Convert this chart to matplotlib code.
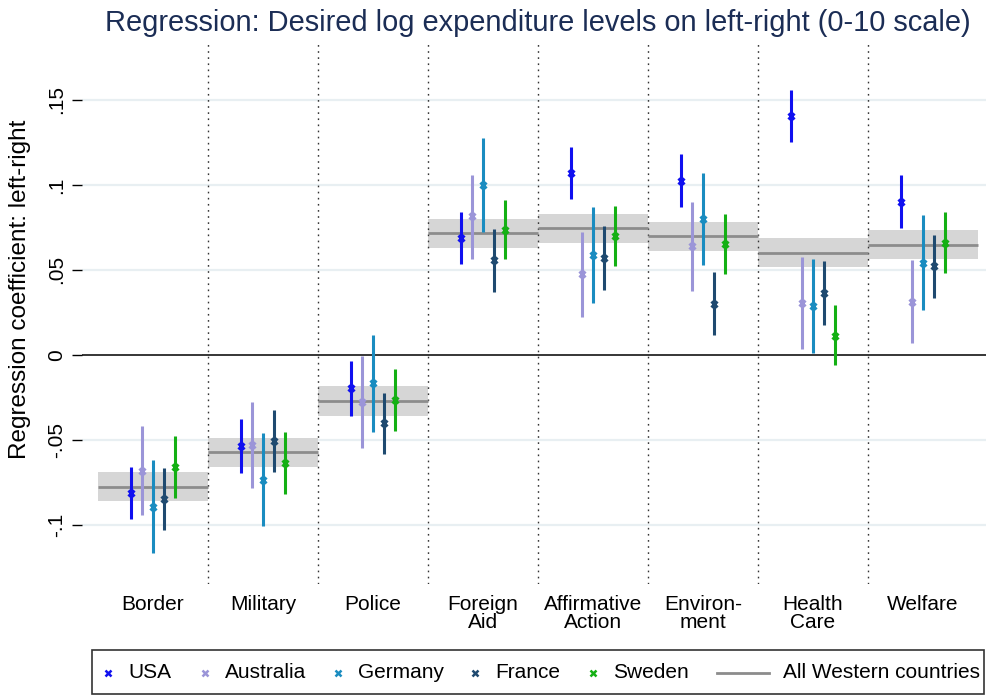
import matplotlib.pyplot as plt
import numpy as np
from matplotlib.lines import Line2D
from matplotlib.patches import Rectangle

plt.rcParams['font.family'] = ['Liberation Sans', 'DejaVu Sans']

categories = ['Border', 'Military', 'Police', 'Foreign\nAid', 'Affirmative\nAction',
              'Environ-\nment', 'Health\nCare', 'Welfare']
countries = ['USA', 'Australia', 'Germany', 'France', 'Sweden']
colors = ['#1010f0', '#9b95d8', '#1a8cc0', '#1f4a70', '#14b014']

# country estimates per category (rows: USA, Australia, Germany, France, Sweden)
coef = [
    [-0.0814, -0.0535, -0.0196, 0.0690, 0.1069, 0.1024, 0.1402, 0.0902],
    [-0.0680, -0.0530, -0.0278, 0.0814, 0.0476, 0.0641, 0.0304, 0.0314],
    [-0.0896, -0.0735, -0.0167, 0.1000, 0.0588, 0.0798, 0.0290, 0.0543],
    [-0.0847, -0.0506, -0.0402, 0.0557, 0.0569, 0.0302, 0.0363, 0.0520],
    [-0.0660, -0.0637, -0.0265, 0.0735, 0.0700, 0.0653, 0.0114, 0.0660],
]
ci_high = [
    [-0.0657, -0.0376, -0.0035, 0.0843, 0.1220, 0.1180, 0.1555, 0.1055],
    [-0.0420, -0.0275, -0.0006, 0.1059, 0.0725, 0.0898, 0.0575, 0.0559],
    [-0.0618, -0.0460, 0.0118, 0.1275, 0.0867, 0.1069, 0.0565, 0.0820],
    [-0.0663, -0.0324, -0.0222, 0.0741, 0.0759, 0.0486, 0.0551, 0.0706],
    [-0.0476, -0.0451, -0.0084, 0.0912, 0.0876, 0.0831, 0.0292, 0.0839],
]
ci_low = [
    [-0.0965, -0.0696, -0.0359, 0.0537, 0.0918, 0.0871, 0.1251, 0.0745],
    [-0.0940, -0.0784, -0.0549, 0.0565, 0.0222, 0.0378, 0.0033, 0.0069],
    [-0.1167, -0.1004, -0.0455, 0.0725, 0.0308, 0.0527, 0.0014, 0.0265],
    [-0.1030, -0.0690, -0.0582, 0.0369, 0.0382, 0.0118, 0.0175, 0.0333],
    [-0.0843, -0.0820, -0.0445, 0.0565, 0.0525, 0.0475, -0.0061, 0.0484],
]
# pooled estimate over all Western countries with its confidence band
pooled = [-0.0775, -0.0573, -0.0269, 0.0714, 0.0747, 0.0698, 0.0602, 0.0649]
pooled_low = [-0.0860, -0.0660, -0.0357, 0.0631, 0.0660, 0.0612, 0.0514, 0.0565]
pooled_high = [-0.0690, -0.0486, -0.0182, 0.0798, 0.0827, 0.0782, 0.0688, 0.0735]

yticks = [-0.1, -0.05, 0, 0.05, 0.1, 0.15]
ytick_labels = ['-.1', '-.05', '0', '.05', '.1', '.15']

W, H = 986, 695
fig = plt.figure(figsize=(W / 100, H / 100), dpi=100)
ax = fig.add_axes([0.0832, 0.1597, 0.9168, 0.7799])

x = np.arange(len(categories))

for v in yticks:
    if v != 0:
        ax.axhline(v, color='#e8eff2', lw=1.6, zorder=0)
ax.axhline(0, color='black', lw=1.1, zorder=1)

for i in range(len(categories)):
    ax.fill_between([i - 0.5, i + 0.5], pooled_low[i], pooled_high[i],
                    color='#d6d6d6', lw=0, zorder=1)
    ax.hlines(pooled[i], i - 0.5, i + 0.5, color='#8c8c8c', lw=2, zorder=2)

for i in range(len(categories) - 1):
    ax.axvline(i + 0.5, color='#333333', lw=1, linestyle=(0, (1.2, 3.2)), zorder=1)

for j, name in enumerate(countries):
    xs = x + (j - 2) * 0.1
    ax.vlines(xs, ci_low[j], ci_high[j], color=colors[j], lw=2.2, zorder=3)
    ax.plot(xs, coef[j], 'x', color=colors[j], ms=5, mew=2.2, zorder=4)

ax.set_xlim(-0.645, 7.573)
ax.set_ylim(-0.1347, 0.184)

ax.set_xticks(x)
ax.set_xticklabels(categories, fontsize=15, linespacing=0.95)
ax.tick_params(axis='x', length=0, pad=8)
ax.set_yticks(yticks)
ax.set_yticklabels(ytick_labels, fontsize=15, rotation=90, va='center')
ax.tick_params(axis='y', length=7.5, width=1, pad=4)
for s in ax.spines.values():
    s.set_visible(False)

ax.set_ylabel('Regression coefficient: left-right', fontsize=17.5, va='center')
ax.yaxis.set_label_coords(-0.0685, 0.544)
fig.text(0.545, 1 - 23 / H,
         'Regression: Desired log expenditure levels on left-right (0-10 scale)',
         ha='center', va='center', fontsize=20.9, color='#1b2d55')

# legend drawn by hand along the bottom (pixel positions)
def fx(px):
    return px / W

def fy(py):
    return 1 - py / H

fig.add_artist(Rectangle((fx(92), fy(694)), fx(984) - fx(92), fy(650) - fy(694),
                         transform=fig.transFigure, fill=False, ec='#333333', lw=1.2))
leg_y = 673
marker_x = [108, 205, 338, 475, 593]
for c, name, mx in zip(colors, countries, marker_x):
    fig.add_artist(Line2D([fx(mx)], [fy(leg_y)], transform=fig.transFigure, ls='none',
                          marker='x', color=c, ms=4, mew=1.8))
    fig.text(fx(mx + 20), fy(leg_y), name, ha='left', va='center', fontsize=15)
fig.add_artist(Line2D([fx(717), fx(769)], [fy(leg_y), fy(leg_y)],
                      transform=fig.transFigure, color='#8c8c8c', lw=2))
fig.text(fx(783), fy(leg_y), 'All Western countries', ha='left', va='center', fontsize=15)

fig.savefig('out.png', dpi=100)
